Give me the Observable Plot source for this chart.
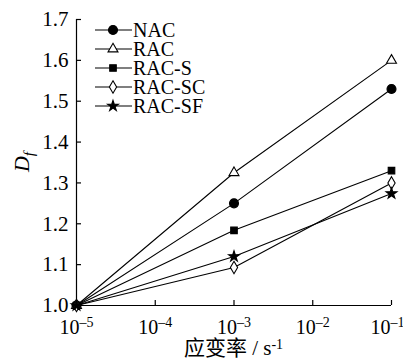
<!DOCTYPE html>
<html><head><meta charset="utf-8">
<script src="https://cdn.jsdelivr.net/npm/d3@7"></script>
<script src="https://cdn.jsdelivr.net/npm/@observablehq/plot@0.6"></script>
<style>body{margin:0;background:#fff}</style>
</head><body><div id="chart"></div>
<script>
const strainRates = [1e-5, 1e-3, 1e-1];
const seriesNames = ["NAC", "RAC", "RAC-S", "RAC-SC", "RAC-SF"];
const NAC    = [1.0, 1.250, 1.530];
const RAC    = [1.0, 1.325, 1.600];
const RAC_S  = [1.0, 1.184, 1.330];
const RAC_SC = [1.0, 1.093, 1.300];
const RAC_SF = [1.0, 1.120, 1.274];
const xTicks = [1e-5, 1e-4, 1e-3, 1e-2, 1e-1];
const yTicks = [1.0, 1.1, 1.2, 1.3, 1.4, 1.5, 1.6, 1.7];
const xLabel = "应变率 / s";
const xLabelSup = "-1";
const yLabelMain = "D";
const yLabelSub = "f";

const seriesValues = {"NAC": NAC, "RAC": RAC, "RAC-S": RAC_S, "RAC-SC": RAC_SC, "RAC-SF": RAC_SF};
const style = {
  "NAC":    {symbol: "circle",   fill: "black", r: 4.5},
  "RAC":    {symbol: "triangle", fill: "white", r: 3.7},
  "RAC-S":  {symbol: "square",   fill: "black", r: 3.7},
  "RAC-SC": {symbol: "diamond",  fill: "white", r: 3.8},
  "RAC-SF": {symbol: "star",     fill: "black", r: 3.4}
};
const d3Sym = {circle: d3.symbolCircle, triangle: d3.symbolTriangle, square: d3.symbolSquare, diamond: d3.symbolDiamond, star: d3.symbolStar};

const rows = [];
for (const s of seriesNames) strainRates.forEach((x, i) => rows.push({series: s, x, y: seriesValues[s][i]}));

const FONT = "'Liberation Serif', 'Times New Roman', 'Noto Sans CJK SC', serif";
const W = 403, H = 362, ML = 76, MR = 12, MT = 19, MB = 57;

const marks = [
  Plot.ruleX([1e-5], {stroke: "black", strokeWidth: 1.2}),
  Plot.ruleY([1.0], {stroke: "black", strokeWidth: 1.2}),
  Plot.axisX({ticks: xTicks, tickSize: 5, tickPadding: 9, label: null, tickFormat: d => String(Math.round(Math.log10(d))), strokeWidth: 1.2}),
  Plot.axisY({ticks: yTicks, tickSize: 5, tickPadding: 3, label: null, tickFormat: d => d.toFixed(1), strokeWidth: 1.2, fontSize: 21})
];
for (const s of seriesNames) {
  const data = rows.filter(d => d.series === s);
  marks.push(Plot.line(data, {x: "x", y: "y", stroke: "black", strokeWidth: 1.1}));
}
for (const s of seriesNames) {
  const data = rows.filter(d => d.series === s);
  const st = style[s];
  marks.push(Plot.dot(data, {x: "x", y: "y", symbol: () => st.symbol, r: st.r, fill: st.fill, stroke: "black", strokeWidth: 1.1}));
}

const plot = Plot.plot({
  width: W, height: H,
  marginLeft: ML, marginRight: MR, marginTop: MT, marginBottom: MB,
  style: {fontFamily: FONT, fontSize: "20px", color: "black", background: "white"},
  x: {type: "log", domain: [1e-5, 1e-1]},
  y: {domain: [1.0, 1.7]},
  symbol: {type: "identity"},
  marks
});
document.getElementById("chart").appendChild(plot);

const svg = d3.select(plot);
// inward ticks
svg.selectAll('g[aria-label="y-axis tick"] path').attr("d", "M0,0L5,0");
svg.selectAll('g[aria-label="x-axis tick"] path').attr("d", "M0,0L0,-5");
// superscript tick labels
const xt = svg.selectAll('g[aria-label="x-axis tick label"] text');
const nT = xt.size();
xt.each(function(d, i) {
  const t = d3.select(this);
  const exp = t.text().replace("\u2212", "-");
  t.text(null);
  t.append("tspan").text("10");
  t.append("tspan").attr("dy", "-0.45em").attr("font-size", "14px").text("\u2013" + exp.replace("-", ""));
  if (i === nT - 1) t.attr("dx", -4);
});
// x label
const xl = svg.append("text").attr("x", (ML + W - MR) / 2).attr("y", 355)
  .attr("text-anchor", "middle").attr("font-size", "21px").attr("fill", "black").attr("font-family", FONT);
xl.append("tspan").text(xLabel);
xl.append("tspan").attr("dy", "-0.45em").attr("font-size", "14px").text(xLabelSup);
// y label
const yl = svg.append("text").attr("transform", `translate(29,${(MT + H - MB) / 2}) rotate(-90)`)
  .attr("text-anchor", "middle").attr("font-size", "22px").attr("fill", "black").attr("font-family", FONT);
yl.append("tspan").attr("font-style", "italic").text(yLabelMain);
yl.append("tspan").attr("font-style", "italic").attr("font-size", "15px").attr("dy", "0.3em").text(yLabelSub);
// legend
const lg = svg.append("g").attr("font-family", FONT).attr("font-size", "20px").attr("text-anchor", "start");
seriesNames.forEach((s, i) => {
  const y = 30 + i * 19;
  const st = style[s];
  lg.append("line").attr("x1", 95).attr("x2", 132).attr("y1", y).attr("y2", y).attr("stroke", "black").attr("stroke-width", 1.1);
  lg.append("path").attr("transform", `translate(113,${y})`)
    .attr("d", d3.symbol(d3Sym[st.symbol], st.r * st.r * Math.PI)())
    .attr("fill", st.fill).attr("stroke", "black").attr("stroke-width", 1.1);
  lg.append("text").attr("x", 133).attr("y", y).attr("dy", "0.35em").attr("fill", "black").attr("text-anchor", "start").text(s);
});
</script>
</body></html>
